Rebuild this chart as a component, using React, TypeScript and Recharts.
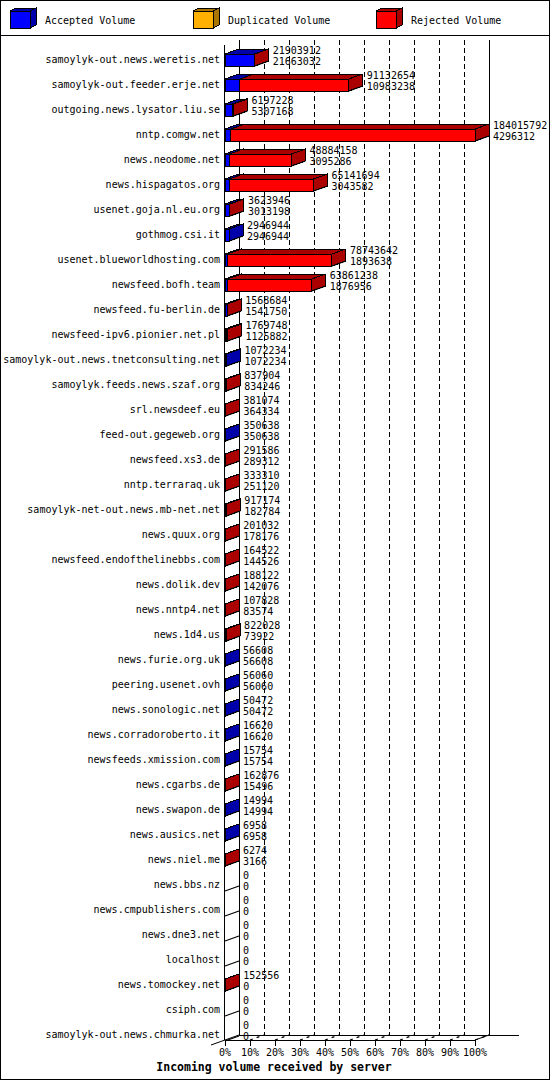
import React from "react";
import { BarChart, Bar, XAxis, YAxis, CartesianGrid } from "recharts";

const SERVERS = [
  "samoylyk-out.news.weretis.net",
  "samoylyk-out.feeder.erje.net",
  "outgoing.news.lysator.liu.se",
  "nntp.comgw.net",
  "news.neodome.net",
  "news.hispagatos.org",
  "usenet.goja.nl.eu.org",
  "gothmog.csi.it",
  "usenet.blueworldhosting.com",
  "newsfeed.bofh.team",
  "newsfeed.fu-berlin.de",
  "newsfeed-ipv6.pionier.net.pl",
  "samoylyk-out.news.tnetconsulting.net",
  "samoylyk.feeds.news.szaf.org",
  "srl.newsdeef.eu",
  "feed-out.gegeweb.org",
  "newsfeed.xs3.de",
  "nntp.terraraq.uk",
  "samoylyk-net-out.news.mb-net.net",
  "news.quux.org",
  "newsfeed.endofthelinebbs.com",
  "news.dolik.dev",
  "news.nntp4.net",
  "news.1d4.us",
  "news.furie.org.uk",
  "peering.usenet.ovh",
  "news.sonologic.net",
  "news.corradoroberto.it",
  "newsfeeds.xmission.com",
  "news.cgarbs.de",
  "news.swapon.de",
  "news.ausics.net",
  "news.niel.me",
  "news.bbs.nz",
  "news.cmpublishers.com",
  "news.dne3.net",
  "localhost",
  "news.tomockey.net",
  "csiph.com",
  "samoylyk-out.news.chmurka.net",
];

const TOTAL = [
  21903912, 91132654, 6197228, 184015792, 48884158, 65141694, 3623946, 2946944,
  78743642, 63861238, 1568684, 1769748, 1072234, 837904, 381074, 350638, 291586,
  333310, 917174, 201032, 164522, 188122, 107828, 822028, 56608, 56060, 50472,
  16620, 15754, 162876, 14994, 6958, 6274, 0, 0, 0, 0, 152556, 0, 0,
];

const ACCEPTED = [
  21663032, 10983238, 5307168, 4296312, 3095286, 3043582, 3013198, 2946944,
  1893638, 1876956, 1541750, 1125882, 1072234, 834246, 364334, 350638, 289312,
  251120, 182784, 178176, 144526, 142076, 83574, 73922, 56608, 56060, 50472,
  16620, 15754, 15496, 14994, 6958, 3166, 0, 0, 0, 0, 0, 0, 0,
];

const DUPLICATED = [
  0, 0, 0, 0, 0, 0, 0, 0, 0, 0, 0, 0, 0, 0, 0, 0, 0, 0, 0, 0,
  0, 0, 0, 0, 0, 0, 0, 0, 0, 0, 0, 0, 0, 0, 0, 0, 0, 0, 0, 0,
];

const SERIES = ["Accepted Volume", "Duplicated Volume", "Rejected Volume"];
const FRONT = ["#0000FF", "#FFB000", "#FF0000"];
const DARK = ["#0000AA", "#AA7500", "#AA0000"];
const PCT_TICKS = [0, 10, 20, 30, 40, 50, 60, 70, 80, 90, 100];
const TITLE = "Incoming volume received by server";

const MAX = Math.max(...TOTAL);
const rows = SERVERS.map((name, i) => ({
  name,
  total: TOTAL[i],
  accepted: ACCEPTED[i],
  acc: (ACCEPTED[i] / MAX) * 100,
  dup: (DUPLICATED[i] / MAX) * 100,
  rej: ((TOTAL[i] - ACCEPTED[i] - DUPLICATED[i]) / MAX) * 100,
}));

const W = 550;
const H = 1080;
const MONO = "'DejaVu Sans Mono', monospace";
const DX = 14;
const DY = 5;
const PLOT_LEFT = 225;
const PLOT_RIGHT = 475;
const BACK_TOP = 40;
const FLOOR_Y = 1040;
const BACK_FLOOR_Y = 1035;
const BAR_H = 12;

function block(x: number, y: number, w: number, h: number, front: string, dark: string) {
  const x2 = x + w;
  return (
    <g shapeRendering="crispEdges">
      <polygon
        points={`${x},${y} ${x2},${y} ${x2 + DX},${y - DY} ${x + DX},${y - DY}`}
        fill={dark}
        stroke="#000"
      />
      <rect x={x} y={y} width={w} height={h} fill={front} stroke="#000" />
      <polygon
        points={`${x2},${y} ${x2 + DX},${y - DY} ${x2 + DX},${y + h - DY} ${x2},${y + h}`}
        fill={dark}
        stroke="#000"
      />
    </g>
  );
}

const makeShape = (si: number) => (props: any) => {
  const x = Number(props.x);
  const y = Number(props.y);
  const height = Number(props.height);
  const payload = props.payload || {};
  const w = Math.max(0, Number(props.width) || 0);
  const ex = x + w;
  return (
    <g>
      {w > 0 && block(x, y, w, height, FRONT[si], DARK[si])}
      {si === 2 && (
        <line
          x1={ex}
          y1={y + height}
          x2={ex + DX}
          y2={y + height - DY}
          stroke="#000"
          strokeWidth={1.2}
        />
      )}
      {si === 2 && (
        <g fontFamily={MONO} fontSize={10} fill="#000">
          <text x={ex + DX + 4} y={y + height / 2 - 10} dominantBaseline="central">
            {payload.total}
          </text>
          <text x={ex + DX + 4} y={y + height / 2 + 1.5} dominantBaseline="central">
            {payload.accepted}
          </text>
        </g>
      )}
    </g>
  );
};

const GridLine = (props: any) => {
  const { x1 } = props;
  const edge = Math.abs(x1 - PLOT_LEFT) < 1 || Math.abs(x1 - PLOT_RIGHT) < 1;
  return (
    <line
      key={props.key}
      x1={x1 + DX}
      x2={x1 + DX}
      y1={BACK_TOP}
      y2={BACK_FLOOR_Y}
      stroke="#000"
      strokeDasharray={edge ? undefined : "5 3"}
      shapeRendering="crispEdges"
    />
  );
};

const PctTick = (props: any) => {
  const { x, payload } = props;
  return (
    <g>
      <line x1={x} y1={FLOOR_Y} x2={x} y2={FLOOR_Y + 6} stroke="#000" shapeRendering="crispEdges" />
      {payload.value > 0 && (
        <line
          x1={x}
          y1={FLOOR_Y}
          x2={x + DX}
          y2={FLOOR_Y - DY}
          stroke="#000"
          strokeWidth={1.3}
          strokeDasharray="3 4"
        />
      )}
      <text
        x={x}
        y={1052}
        textAnchor="middle"
        dominantBaseline="central"
        fontFamily={MONO}
        fontSize={10}
        fill="#000"
      >
        {payload.value}%
      </text>
    </g>
  );
};

const NameTick = (props: any) => {
  const { x, y, payload } = props;
  return (
    <text
      x={x}
      y={y}
      textAnchor="end"
      dominantBaseline="central"
      fontFamily={MONO}
      fontSize={10}
      fill="#000"
    >
      {payload.value}
    </text>
  );
};

const LEGEND_X = [10, 193, 376];

function Frame() {
  return (
    <svg width={W} height={H} style={{ position: "absolute", left: 0, top: 0 }}>
      <rect x={0.5} y={0.5} width={W - 1} height={H - 1} fill="#fff" stroke="#000" />
      <line x1={0} y1={35.5} x2={W} y2={35.5} stroke="#000" />
      {SERIES.map((s, i) => {
        const x = LEGEND_X[i];
        const y = 11;
        const w = 20;
        const h = 17;
        const dx = 6;
        const dy = 3;
        return (
          <g key={s} shapeRendering="crispEdges">
            <polygon
              points={`${x},${y} ${x + w},${y} ${x + w + dx},${y - dy} ${x + dx},${y - dy}`}
              fill={DARK[i]}
              stroke="#000"
            />
            <polygon
              points={`${x + w},${y} ${x + w + dx},${y - dy} ${x + w + dx},${y + h - dy} ${x + w},${y + h}`}
              fill={DARK[i]}
              stroke="#000"
            />
            <rect x={x} y={y} width={w} height={h} fill={FRONT[i]} stroke="#000" />
            <text
              x={x + 35}
              y={20}
              dominantBaseline="central"
              fontFamily={MONO}
              fontSize={10}
              fill="#000"
            >
              {s}
            </text>
          </g>
        );
      })}
      <g stroke="#000" shapeRendering="crispEdges">
        <line x1={PLOT_LEFT + DX + 0.5} y1={BACK_TOP} x2={PLOT_LEFT + DX + 0.5} y2={BACK_FLOOR_Y} />
        <line x1={PLOT_RIGHT + DX + 0.5} y1={BACK_TOP} x2={PLOT_RIGHT + DX + 0.5} y2={BACK_FLOOR_Y} />
        <line x1={PLOT_LEFT - 0.5} y1={45} x2={PLOT_LEFT - 0.5} y2={FLOOR_Y} />
        <line x1={PLOT_LEFT} y1={FLOOR_Y + 0.5} x2={PLOT_RIGHT} y2={FLOOR_Y + 0.5} />
        <line x1={PLOT_LEFT + DX} y1={BACK_FLOOR_Y + 0.5} x2={519} y2={BACK_FLOOR_Y + 0.5} />
      </g>
      <g stroke="#000">
        <line x1={PLOT_LEFT + DX} y1={BACK_FLOOR_Y} x2={PLOT_LEFT - DX} y2={FLOOR_Y + DY} />
        <line x1={PLOT_RIGHT + DX} y1={BACK_FLOOR_Y} x2={PLOT_RIGHT} y2={FLOOR_Y} />
      </g>
      <text
        x={274}
        y={1067}
        textAnchor="middle"
        dominantBaseline="central"
        fontFamily={MONO}
        fontWeight="bold"
        fontSize={11.5}
        fill="#000"
      >
        {TITLE}
      </text>
    </svg>
  );
}

export default function App() {
  return (
    <div style={{ position: "absolute", left: 0, top: 0, width: W, height: H, background: "#fff" }}>
      <Frame />
      <div style={{ position: "absolute", left: 0, top: 0 }}>
        <BarChart
          width={W}
          height={H}
          layout="vertical"
          data={rows}
          margin={{ top: 47, right: W - PLOT_RIGHT, bottom: 0, left: 0 }}
          barSize={BAR_H}
        >
          <CartesianGrid horizontal={false} vertical={GridLine} />
          <XAxis
            type="number"
            domain={[0, 100]}
            ticks={PCT_TICKS}
            interval={0}
            tick={PctTick}
            tickLine={false}
            axisLine={false}
            height={33}
          />
          <YAxis
            type="category"
            dataKey="name"
            width={PLOT_LEFT}
            interval={0}
            tick={NameTick}
            tickLine={false}
            axisLine={false}
            tickSize={0}
            tickMargin={5}
          />
          <Bar dataKey="acc" stackId="s" name={SERIES[0]} fill={FRONT[0]} shape={makeShape(0)} isAnimationActive={false} />
          <Bar dataKey="dup" stackId="s" name={SERIES[1]} fill={FRONT[1]} shape={makeShape(1)} isAnimationActive={false} />
          <Bar dataKey="rej" stackId="s" name={SERIES[2]} fill={FRONT[2]} shape={makeShape(2)} isAnimationActive={false} />
        </BarChart>
      </div>
    </div>
  );
}
